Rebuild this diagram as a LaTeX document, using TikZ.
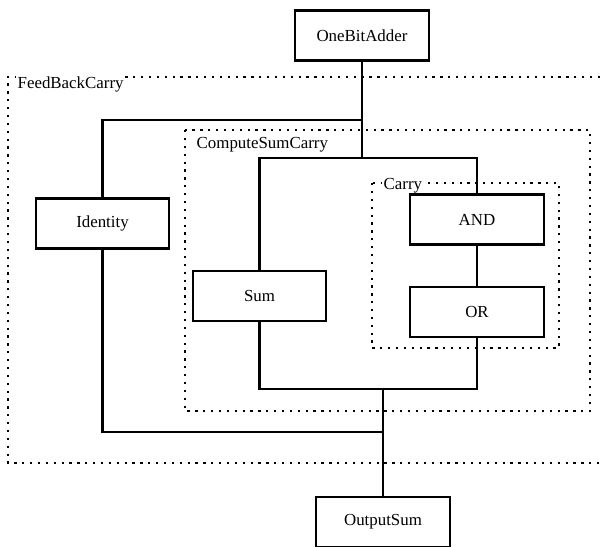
\documentclass[tikz,border=0pt]{standalone}
\usepackage{fontspec}
\setmainfont{Liberation Serif}
\begin{document}
\begin{tikzpicture}[x=0.025cm,y=-0.025cm,
  blk/.style={draw,line width=1.5pt,fill=white,inner sep=0pt,minimum width=3.33cm,minimum height=1.25cm,font=\fontsize{12}{14}\selectfont},
  wire/.style={line width=1.5pt},
  dotbox/.style={line width=1.8pt,dash pattern=on 1.6pt off 4pt},
  grplabel/.style={anchor=west,fill=white,inner sep=1pt,font=\fontsize{12}{14}\selectfont}]
\useasboundingbox (0,0) rectangle (600,547);
% groups
\draw[dotbox] (600,77) -- (8,77) -- (8,463) -- (600,463);
\draw[dotbox] (185,130) rectangle (590,411);
\draw[dotbox] (372,183) rectangle (559,348);
\node[grplabel] (lfb) at (16,84) {FeedBackCarry};
\node[grplabel] (lcsc) at (195,145) {ComputeSumCarry};
\node[grplabel] (lc) at (382,186) {Carry};
% junctions
\coordinate (j1) at (362,120);
\coordinate (j2) at (362,158);
\coordinate (j3) at (383,389);
\coordinate (j4) at (383,432);
% blocks
\node[blk] (ob) at (362,35.5) {OneBitAdder};
\node[blk] (id) at (102.5,223.5) {Identity};
\node[blk] (sum) at (259.5,296) {Sum};
\node[blk] (and) at (477,219.5) {AND};
\node[blk] (or) at (477,312) {OR};
\node[blk] (os) at (383,522) {OutputSum};
% wires
\draw[wire] (ob.south) -- (j2);
\draw[wire] (j1) -| (id.north);
\draw[wire] (sum.north) |- (j2) -| (and.north);
\draw[wire] (and.south) -- (or.north);
\draw[wire] (sum.south) |- (j3) -| (or.south);
\draw[wire] (id.south) |- (j4);
\draw[wire] (j3) -- (os.north);
\end{tikzpicture}
\end{document}
